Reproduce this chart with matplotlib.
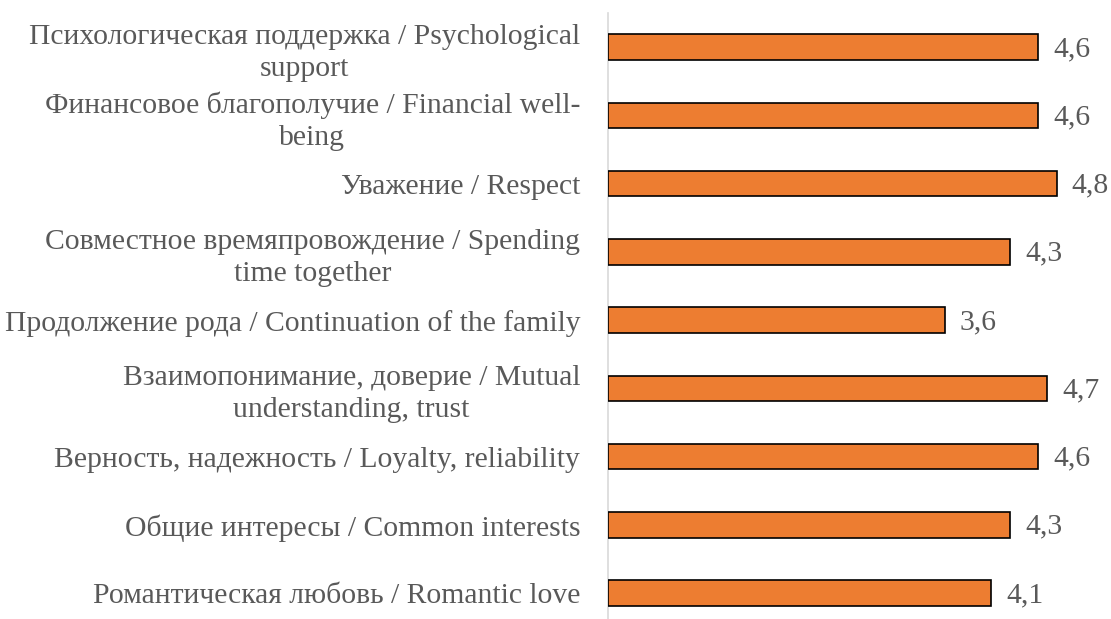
import matplotlib
matplotlib.use("Agg")
import matplotlib.pyplot as plt

categories = [
    "Психологическая поддержка / Psychological\nsupport",
    "Финансовое благополучие / Financial well-\nbeing",
    "Уважение / Respect",
    "Совместное времяпровождение / Spending\ntime together",
    "Продолжение рода / Continuation of the family",
    "Взаимопонимание, доверие / Mutual\nunderstanding, trust",
    "Верность, надежность / Loyalty, reliability",
    "Общие интересы / Common interests",
    "Романтическая любовь / Romantic love",
]
values = [4.6, 4.6, 4.8, 4.3, 3.6, 4.7, 4.6, 4.3, 4.1]
value_labels = ["4,6", "4,6", "4,8", "4,3", "3,6", "4,7", "4,6", "4,3", "4,1"]

plt.rcParams['font.family'] = ['Liberation Serif', 'DejaVu Serif']

W, H = 1111, 619
fig = plt.figure(figsize=(W / 100, H / 100), dpi=100)
left = 608 / W
ax = fig.add_axes([left, 0.0, 1 - left, 1 - 13 / H])

n = len(categories)
ypos = list(range(n - 1, -1, -1))
ax.barh(ypos, values, height=0.375, color="#ED7D31", edgecolor="black", linewidth=1.2, zorder=3)

ax.set_xlim(0, (W - 608) / 93.5)
ax.set_ylim(-0.381, 8.5)

FS = 21.3
for y, v, lab in zip(ypos, values, value_labels):
    ax.annotate(lab, xy=(v, y), xytext=(15, -2), textcoords="offset pixels",
                ha="left", va="center", fontsize=FS, color="#595959")

ax.set_yticks(ypos)
ax.set_yticklabels(categories, fontsize=FS, color="#595959", multialignment="center",
                   linespacing=1.3)
ax.tick_params(axis="y", length=0, pad=20)
ax.set_xticks([])
for s in ["top", "right", "bottom"]:
    ax.spines[s].set_visible(False)
ax.spines["left"].set_color("#D9D9D9")
ax.spines["left"].set_linewidth(1.2)

fig.savefig("out.png", dpi=100)
